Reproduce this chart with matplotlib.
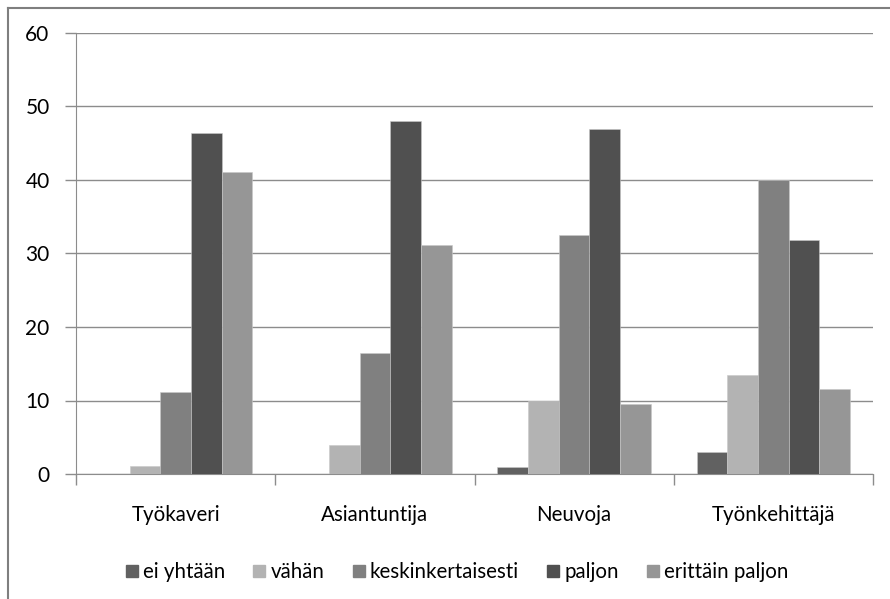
import matplotlib
matplotlib.use("Agg")
import matplotlib.pyplot as plt
from matplotlib.lines import Line2D
import numpy as np

plt.rcParams['font.family'] = ['Lato', 'DejaVu Sans']

categories = ["Työkaveri", "Asiantuntija", "Neuvoja", "Työnkehittäjä"]
series_names = ["ei yhtään", "vähän", "keskinkertaisesti", "paljon", "erittäin paljon"]
ei_yhtaan = [0.0, 0.0, 1.0, 3.0]
vahan = [1.1, 3.9, 10.0, 13.5]
keskinkertaisesti = [11.2, 16.5, 32.5, 40.0]
paljon = [46.4, 48.0, 47.0, 31.9]
erittain_paljon = [41.1, 31.2, 9.5, 11.5]
series_values = [ei_yhtaan, vahan, keskinkertaisesti, paljon, erittain_paljon]
colors = ["#616161", "#b3b3b3", "#808080", "#505050", "#969696"]
y_ticks = [0, 10, 20, 30, 40, 50, 60]

fig = plt.figure(figsize=(8.9, 5.99), dpi=100)
ax = fig.add_axes([76 / 890, 1 - 474 / 599, 797 / 890, 441 / 599])

x = np.arange(len(categories))
w = 1 / 6.5
for i, (vals, col) in enumerate(zip(series_values, colors)):
    ax.bar(x + (i - 2) * w, vals, width=w, color=col, edgecolor="#c8c8c8",
           linewidth=0.4, label=series_names[i], zorder=3)

ax.set_xlim(-0.5, len(categories) - 0.5)
ax.set_ylim(0, 60)
ax.set_yticks(y_ticks)
ax.yaxis.grid(True, color="#8c8c8c", linewidth=1.0, zorder=0)
ax.set_axisbelow(True)

# category labels centred, tick marks at category boundaries
ax.set_xticks(np.arange(-0.5, len(categories), 1.0))
ax.set_xticklabels([])
ax.set_xticks(x, minor=True)
ax.set_xticklabels(categories, minor=True)
ax.tick_params(axis="x", which="minor", length=0, pad=22, labelsize=14.8, colors="#000000")
ax.tick_params(axis="x", which="major", length=8, width=1, color="#8c8c8c", direction="out")
ax.tick_params(axis="y", length=8, width=1, color="#8c8c8c", direction="out", pad=11, labelsize=15)

for s in ["top", "right"]:
    ax.spines[s].set_visible(False)
ax.spines["left"].set_color("#8c8c8c")
ax.spines["bottom"].set_color("#8c8c8c")

handles = [Line2D([], [], marker="s", linestyle="none", markersize=8,
                  markerfacecolor=c, markeredgecolor=c) for c in colors]
fig.legend(handles, series_names, loc="center", bbox_to_anchor=(456 / 890, 1 - 572 / 599),
           ncol=5, frameon=False, fontsize=14.8, handletextpad=0.15, columnspacing=1.25,
           handlelength=0.8)

# outer chart border (left and top edges)
fig.add_artist(Line2D([8 / 890, 8 / 890], [0, 1 - 8 / 599], transform=fig.transFigure,
                      color="#7f7f7f", linewidth=1.5))
fig.add_artist(Line2D([8 / 890, 1.01], [1 - 8 / 599, 1 - 8 / 599], transform=fig.transFigure,
                      color="#7f7f7f", linewidth=1.5))

fig.savefig("out.png", dpi=100)
